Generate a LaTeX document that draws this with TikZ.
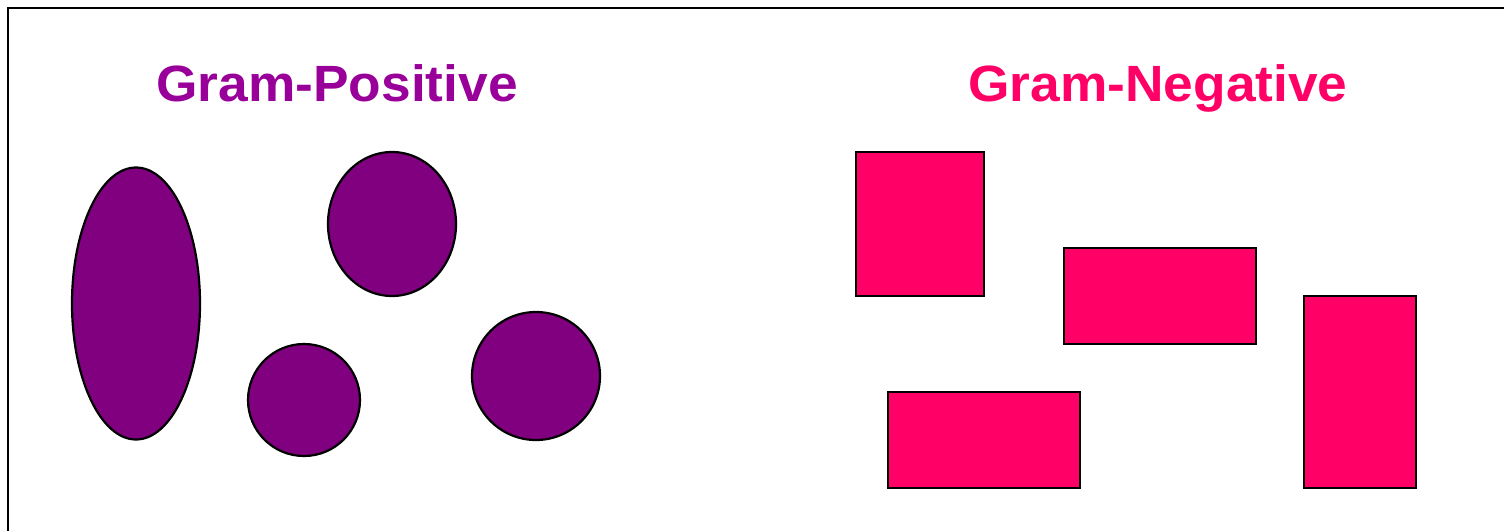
\documentclass[tikz,border=0pt]{standalone}
\usepackage{fontspec}
\usepackage{graphicx}
\setmainfont{Liberation Sans}
\usetikzlibrary{shapes.geometric}
\definecolor{gpos}{HTML}{990099}
\definecolor{gneg}{HTML}{FF0066}
\definecolor{cocc}{HTML}{800080}
\tikzset{
  frame/.style={line width=2.5pt, black},
  title/.style={font=\fontsize{51}{60}\selectfont\bfseries, anchor=base, inner sep=0pt},
  coccus/.style={ellipse, draw=black, line width=2.2pt, fill=cocc, inner sep=0pt},
  rod/.style={rectangle, draw=black, line width=2.2pt, fill=gneg, inner sep=0pt},
}
\begin{document}
\begin{tikzpicture}[x=1pt,y=-1pt]
\useasboundingbox (0,0) rectangle (1504,530);
\fill[white] (0,0) rectangle (1504,530);
\draw[frame] (8,540) -- (8,8) -- (1515,8);
\node[title, text=gpos] (tpos) at (337,101) {\scalebox{1.045}[1]{Gram-Positive}};
\node[title, text=gneg] (tneg) at (1158,101) {\scalebox{1.045}[1]{Gram-Negative}};
% Gram-positive cells
\node[coccus, minimum width=128pt, minimum height=272pt] (c1) at (136,303.5) {};
\node[coccus, minimum width=128pt, minimum height=144pt] (c2) at (392,224) {};
\node[coccus, minimum width=112pt, minimum height=112pt] (c3) at (304,400) {};
\node[coccus, minimum width=128pt, minimum height=128pt] (c4) at (536,376) {};
% Gram-negative cells
\node[rod, minimum width=128pt, minimum height=144pt] (r1) at (920,224) {};
\node[rod, minimum width=192pt, minimum height=96pt] (r2) at (1160,296) {};
\node[rod, minimum width=192pt, minimum height=96pt] (r3) at (984,440) {};
\node[rod, minimum width=112pt, minimum height=192pt] (r4) at (1360,392) {};
\end{tikzpicture}
\end{document}
